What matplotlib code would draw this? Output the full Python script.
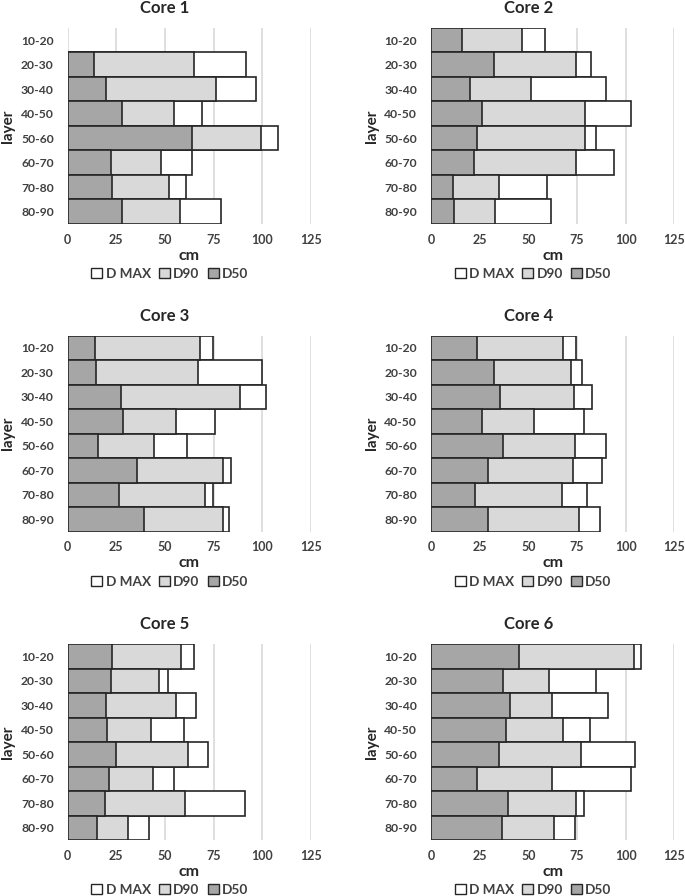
import numpy as np
import matplotlib
matplotlib.use("Agg")
import matplotlib.pyplot as plt
from matplotlib.patches import Patch

plt.rcParams["font.family"] = ["Lato", "DejaVu Sans"]
plt.rcParams["font.weight"] = "bold"

layers = ["10-20", "20-30", "30-40", "40-50", "50-60", "60-70", "70-80", "80-90"]
titles = ["Core 1", "Core 2", "Core 3", "Core 4", "Core 5", "Core 6"]

# values in cm (nan = no data)
d50_core1 = [np.nan, 13.7, 19.5, 28.1, 63.7, 22.3, 22.6, 28.1]
d90_core1 = [np.nan, 65.1, 76.0, 54.8, 99.3, 47.9, 52.1, 57.5]
dmax_core1 = [np.nan, 91.8, 96.9, 69.2, 107.9, 63.7, 60.6, 78.8]

d50_core2 = [15.8, 32.4, 19.9, 26.4, 23.6, 21.9, 11.3, 12.0]
d90_core2 = [46.7, 74.5, 51.5, 79.3, 78.9, 74.5, 34.8, 32.7]
dmax_core2 = [58.7, 82.0, 90.1, 102.9, 84.8, 94.2, 59.8, 61.6]

d50_core3 = [14.0, 14.4, 27.2, 28.3, 15.4, 35.8, 26.5, 39.2]
d90_core3 = [67.8, 66.8, 88.5, 55.5, 44.5, 79.6, 70.7, 80.0]
dmax_core3 = [74.8, 99.8, 102.1, 75.9, 61.1, 84.1, 74.8, 82.9]

d50_core4 = [23.6, 32.2, 35.3, 26.0, 37.2, 29.1, 22.8, 29.5]
d90_core4 = [68.0, 71.9, 73.6, 53.1, 74.0, 72.8, 67.5, 76.2]
dmax_core4 = [74.7, 77.7, 82.9, 78.8, 89.9, 87.7, 80.1, 87.0]

d50_core5 = [22.9, 22.3, 19.5, 20.4, 24.8, 21.2, 19.2, 14.9]
d90_core5 = [58.0, 46.7, 55.8, 42.6, 62.0, 44.0, 60.4, 30.8]
dmax_core5 = [64.9, 51.4, 65.8, 59.6, 71.9, 54.5, 91.3, 41.8]

d50_core6 = [45.4, 37.2, 40.8, 38.5, 34.8, 23.6, 39.6, 36.5]
d90_core6 = [104.3, 60.4, 62.2, 67.6, 77.1, 62.3, 74.3, 63.4]
dmax_core6 = [107.9, 84.8, 91.1, 81.8, 104.8, 102.7, 78.8, 73.8]

cores = [
    (d50_core1, d90_core1, dmax_core1),
    (d50_core2, d90_core2, dmax_core2),
    (d50_core3, d90_core3, dmax_core3),
    (d50_core4, d90_core4, dmax_core4),
    (d50_core5, d90_core5, dmax_core5),
    (d50_core6, d90_core6, dmax_core6),
]

c_max = "#ffffff"
c_d90 = "#d9d9d9"
c_d50 = "#a6a6a6"
edge = "#262626"

fig = plt.figure(figsize=(6.85, 8.96), dpi=100)

lefts = [0.0988, 0.6292]
bottoms = [0.75, 0.4066, 0.0625]
w, h = 0.3552, 0.21875

y = np.arange(len(layers))

for i, (d50, d90, dmax) in enumerate(cores):
    ax = fig.add_axes([lefts[i % 2], bottoms[i // 2], w, h])
    ax.barh(y, dmax, height=1.0, color=c_max, edgecolor=edge, linewidth=1.2, zorder=2)
    ax.barh(y, d90, height=1.0, color=c_d90, edgecolor=edge, linewidth=1.2, zorder=3)
    ax.barh(y, d50, height=1.0, color=c_d50, edgecolor=edge, linewidth=1.2, zorder=4)

    ax.set_xlim(0, 125)
    ax.set_ylim(len(layers) - 0.5, -0.5)
    ax.set_xticks([0, 25, 50, 75, 100, 125])
    ax.set_yticks(y)
    ax.set_yticklabels(layers)
    ax.tick_params(length=0, labelsize=9, pad=7)
    ax.tick_params(axis="y", labelsize=8.7, pad=10)
    for lab in ax.get_xticklabels() + ax.get_yticklabels():
        lab.set_fontweight("bold")
        lab.set_color("#404040")
    ax.grid(axis="x", color="#d9d9d9", linewidth=1.2, zorder=0)
    ax.set_axisbelow(True)
    for s in ax.spines.values():
        s.set_visible(False)

    ax.set_title(titles[i], x=0.40, y=1.075, pad=0, fontsize=12, fontweight="bold", color="#262626")
    ax.set_xlabel("cm", fontsize=11.5, fontweight="bold", color="#262626", labelpad=2)
    ax.set_ylabel("layer", fontsize=11, fontweight="bold", color="#262626")
    ax.yaxis.set_label_coords(-0.215, 0.5)

    handles = [
        Patch(facecolor=c_max, edgecolor=edge, label="D MAX"),
        Patch(facecolor=c_d90, edgecolor=edge, label="D90"),
        Patch(facecolor=c_d50, edgecolor=edge, label="D50"),
    ]
    ax.legend(handles=handles, loc="center", bbox_to_anchor=(0.42, -0.255), ncol=3,
              frameon=False, handlelength=0.8, handleheight=0.8, handletextpad=0.25,
              columnspacing=0.6, prop={"size": 9.8, "weight": "bold"}, labelcolor="#404040")

fig.savefig("out.png", dpi=100)
